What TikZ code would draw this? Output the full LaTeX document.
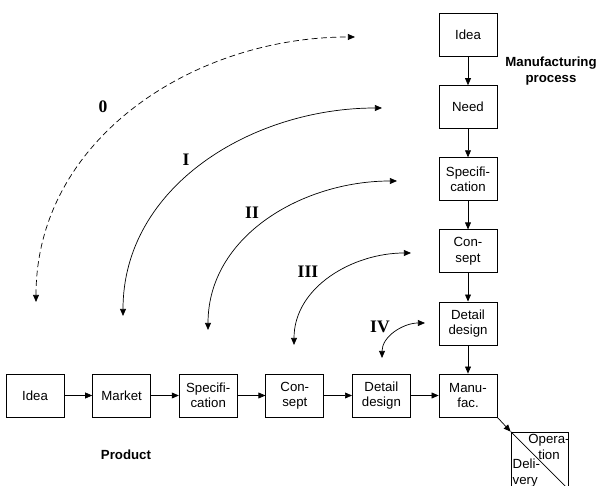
\documentclass[tikz,border=0pt]{standalone}
\usepackage{fontspec}
\setmainfont{Liberation Sans}
\newfontfamily\labelfont{Liberation Serif}
\usetikzlibrary{arrows.meta}

\tikzset{
  box/.style={shape=rectangle,draw=black,line width=0.6pt,minimum width=1.74cm,minimum height=1.29cm,
    align=center,inner sep=1pt,font=\fontsize{11.3}{13.2}\selectfont},
  flow/.style={-{Triangle[length=6pt,width=5pt]},line width=0.6pt},
  loopline/.style={{Triangle[length=6pt,width=5pt]}-{Triangle[length=6pt,width=5pt]},line width=0.6pt},
  level/.style={font=\fontsize{15}{15}\labelfont\bfseries},
  title/.style={align=center,font=\fontsize{11.3}{13.5}\selectfont\bfseries},
}

\begin{document}
\begin{tikzpicture}[x=0.03cm,y=0.03cm]
	\useasboundingbox (0,0) rectangle (599,486);

	% product row
	\node[box] (pidea) at (35, 90.5)    {Idea};
	\node[box] (pmark) at (121.6, 90.5) {Market};
	\node[box] (pspec) at (208.2, 90.5) {Specifi-\\cation};
	\node[box] (pcons) at (294.8, 90.5) {Con-\\sept};
	\node[box] (pdet)  at (381.4, 90.5) {Detail\\design};
	\node[box] (manu)  at (468, 90.5)   {Manu-\\fac.};

	% manufacturing column
	\node[box] (midea) at (468, 451)   {Idea};
	\node[box] (mneed) at (468, 378.9) {Need};
	\node[box] (mspec) at (468, 306.8) {Specifi-\\cation};
	\node[box] (mcons) at (468, 234.7) {Con-\\sept};
	\node[box] (mdet)  at (468, 162.6) {Detail\\design};

	% operation / delivery
	\node[box,minimum width=1.71cm,minimum height=1.71cm] (op) at (539.5, 25.5) {};
	\draw[line width=0.6pt] (op.north west) -- (op.south east);
	\node[align=center,inner sep=0pt,font=\fontsize{11.3}{13.2}\selectfont] (opt) at (549, 39) {Opera-\\tion};
	\node[align=left,anchor=west,inner sep=0pt,font=\fontsize{11.3}{13.2}\selectfont] (del) at (512.5, 13) {Deli-\\very};

	\node[title] (mtitle) at (551, 415) {Manufacturing\\process};
	\node[title] (ptitle) at (126, 31) {Product};

	\draw[flow] (pidea) -- (pmark);
	\draw[flow] (pmark) -- (pspec);
	\draw[flow] (pspec) -- (pcons);
	\draw[flow] (pcons) -- (pdet);
	\draw[flow] (pdet) -- (manu);

	\draw[flow] (midea) -- (mneed);
	\draw[flow] (mneed) -- (mspec);
	\draw[flow] (mspec) -- (mcons);
	\draw[flow] (mcons) -- (mdet);
	\draw[flow] (mdet) -- (manu);

	\draw[flow] (manu.south east) -- (op.north west);

	% arcs between the two chains
	\coordinate (b0) at (36, 184);   \coordinate (t0) at (355, 449);
	\coordinate (b1) at (123, 170);  \coordinate (t1) at (382, 378);
	\coordinate (b2) at (208, 156);  \coordinate (t2) at (397, 305);
	\coordinate (b3) at (294, 141);  \coordinate (t3) at (411, 233);
	\coordinate (b4) at (382, 128);  \coordinate (t4) at (425, 163);

	\draw[loopline, dash pattern=on 5pt off 3pt] (b0) to[out=90,in=180] (t0);
	\draw[loopline] (b1) to[out=90,in=180] (t1);
	\draw[loopline] (b2) to[out=90,in=180] (t2);
	\draw[loopline] (b3) to[out=90,in=180] (t3);
	\draw[loopline] (b4) to[out=90,in=180] (t4);

	\node[level] (l0) at (103, 379) {0};
	\node[level] (l1) at (186, 326) {I};
	\node[level] (l2) at (252, 273) {II};
	\node[level] (l3) at (308, 214) {III};
	\node[level] (l4) at (380, 159) {IV};

\end{tikzpicture}
\end{document}
